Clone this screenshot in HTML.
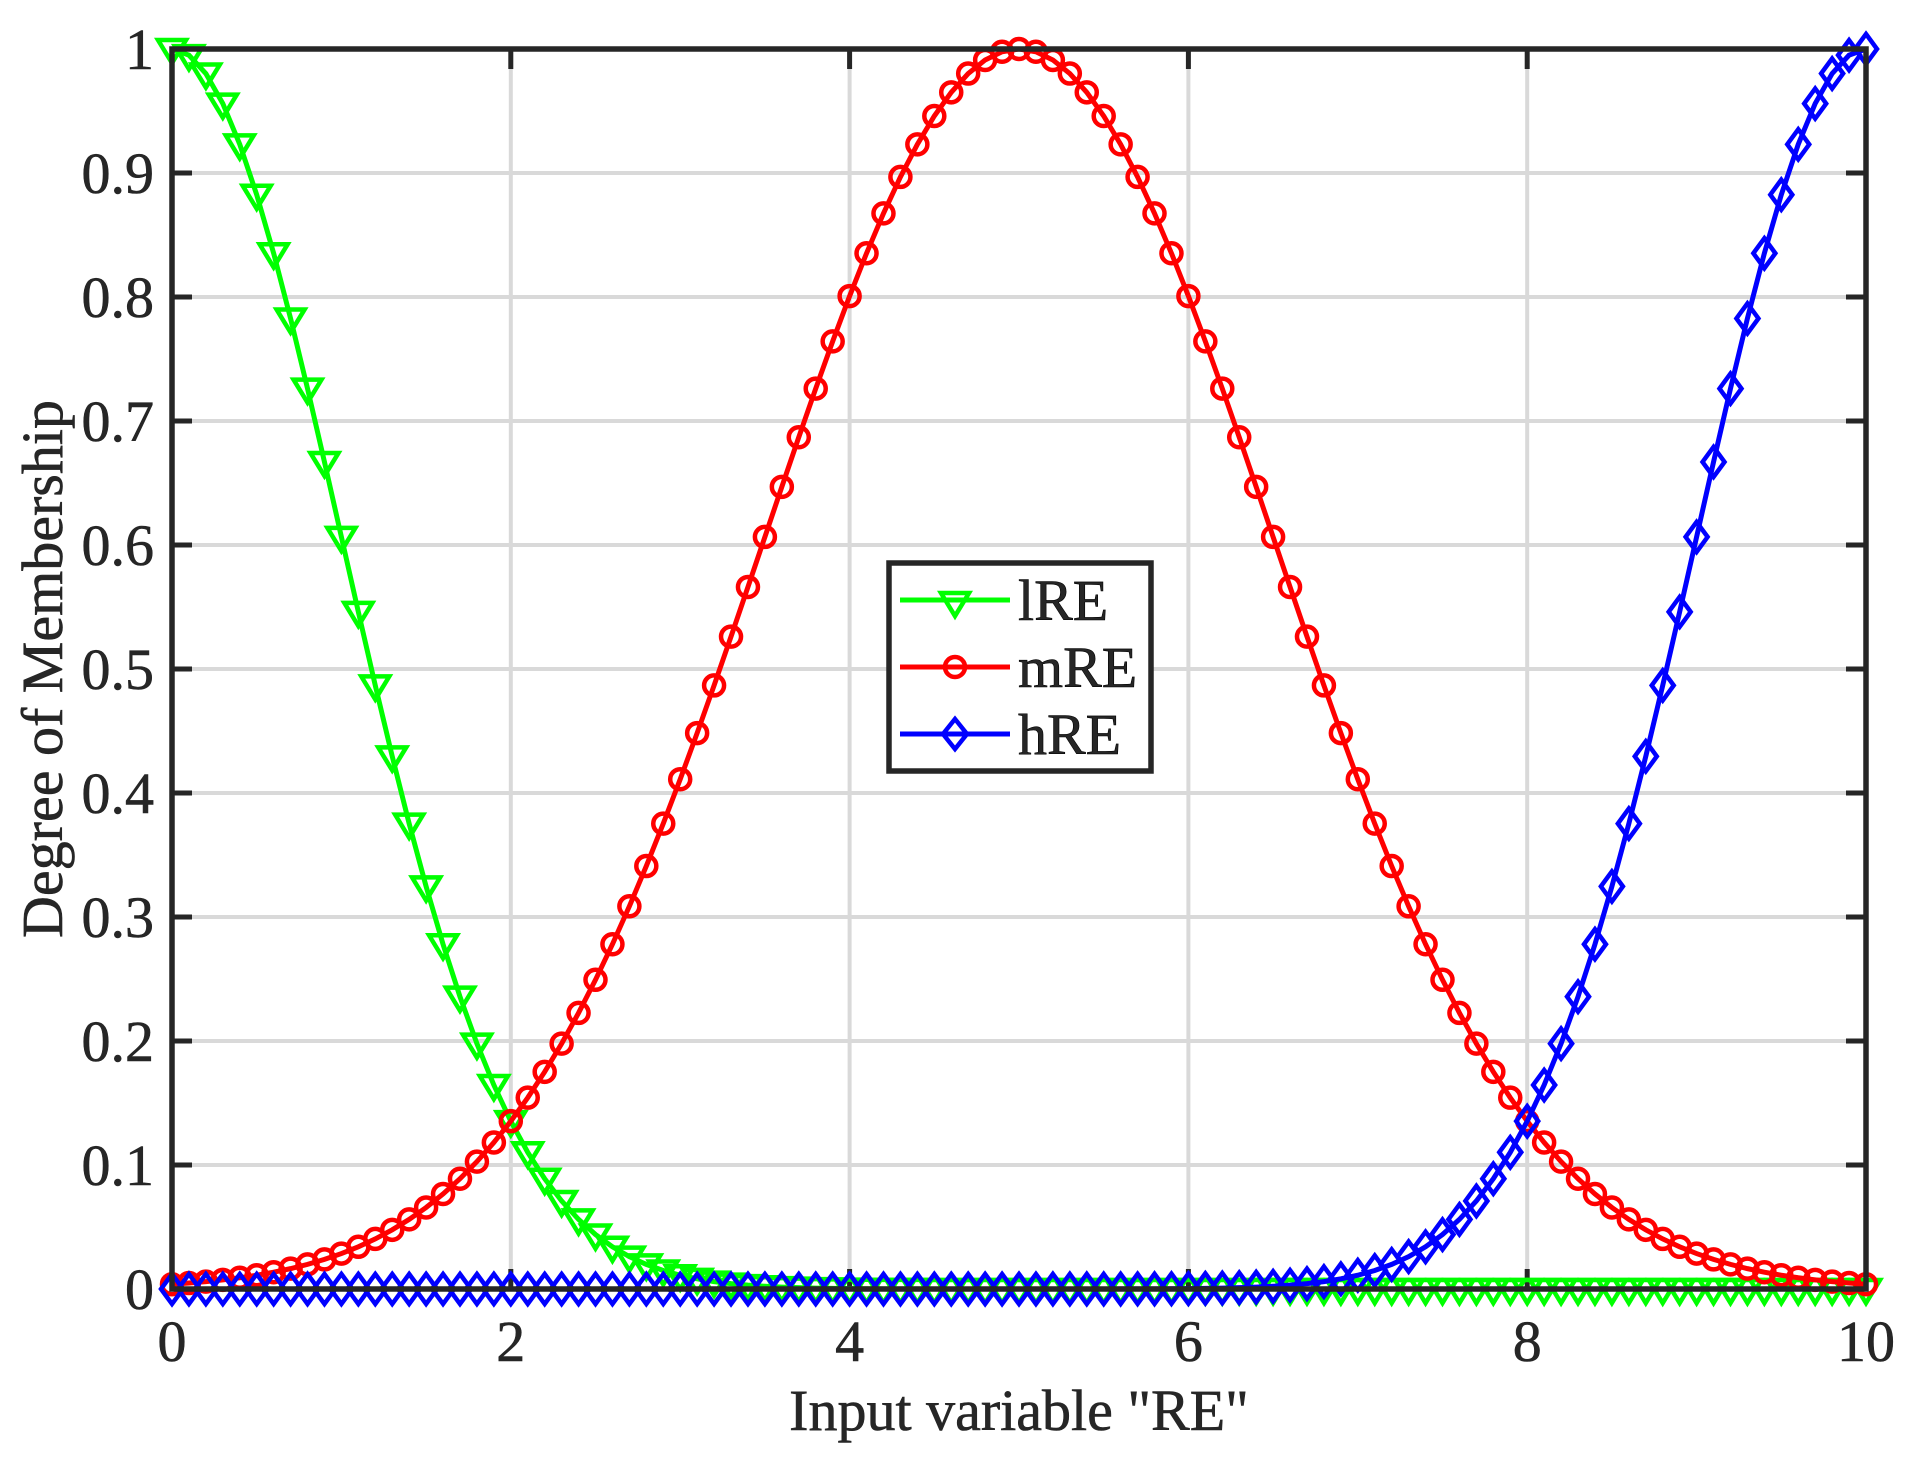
<!DOCTYPE html>
<html><head><meta charset="utf-8"><style>
html,body{margin:0;padding:0;background:#fff;}
svg{display:block;}
text{font-family:"Liberation Serif",serif;fill:#262626;}
</style></head><body>
<svg id="s" width="1906" height="1466" xmlns="http://www.w3.org/2000/svg">
<rect width="1906" height="1466" fill="#fff"/>
<g id="grid" stroke="#d9d9d9" stroke-width="4"></g>
<g id="ticks" stroke="#262626" stroke-width="5"></g>
<g id="labels" font-size="58" stroke="#262626" stroke-width="0.6"></g>
<g id="series"></g>
<rect x="172" y="49" width="1694" height="1240" fill="none" stroke="#262626" stroke-width="5.5"/>
<text x="62" y="669" font-size="58" stroke="#262626" stroke-width="0.6" text-anchor="middle" transform="rotate(-90 62 669)">Degree of Membership</text>
<text x="1019" y="1430" font-size="58" stroke="#262626" stroke-width="0.6" text-anchor="middle">Input variable "RE"</text>
<g>
<rect x="889" y="563" width="262" height="208" fill="#fff" stroke="#262626" stroke-width="5.5"/>
<line x1="900" y1="600" x2="1010" y2="600" stroke="#00ff00" stroke-width="5"/>
<polygon points="941,593 969,593 955,616" fill="none" stroke="#00ff00" stroke-width="4.5"/>
<line x1="900" y1="667" x2="1010" y2="667" stroke="#ff0000" stroke-width="5"/>
<circle cx="955" cy="667" r="10" fill="none" stroke="#ff0000" stroke-width="4.5"/>
<line x1="900" y1="734" x2="1010" y2="734" stroke="#0000ff" stroke-width="5"/>
<polygon points="955,719 967,734 955,749 943,734" fill="none" stroke="#0000ff" stroke-width="4.5"/>
<text x="1018" y="620" font-size="58" fill="#000" stroke="#000" stroke-width="0.6">lRE</text>
<text x="1018" y="687" font-size="58" fill="#000" stroke="#000" stroke-width="0.6">mRE</text>
<text x="1018" y="754" font-size="58" fill="#000" stroke="#000" stroke-width="0.6">hRE</text>
</g>
</svg>
<script>
const NS="http://www.w3.org/2000/svg";
const X0=172,X1=1866,Y0=1289,Y1=49;
const sx=v=>X0+(X1-X0)*v/10, sy=v=>Y0-(Y0-Y1)*v;
function el(p,t,a){const e=document.createElementNS(NS,t);for(const k in a)e.setAttribute(k,a[k]);p.appendChild(e);return e;}
const g=document.getElementById('grid'),tk=document.getElementById('ticks'),lb=document.getElementById('labels');
for(let i=1;i<5;i++){const x=sx(2*i);el(g,'line',{x1:x,y1:Y1,x2:x,y2:Y0});}
for(let i=1;i<10;i++){const y=sy(i/10);el(g,'line',{x1:X0,y1:y,x2:X1,y2:y});}
for(let i=0;i<=5;i++){const x=sx(2*i);el(tk,'line',{x1:x,y1:Y0,x2:x,y2:Y0-20});el(tk,'line',{x1:x,y1:Y1,x2:x,y2:Y1+20});
 const t=el(lb,'text',{x:x,y:1361,'text-anchor':'middle'});t.textContent=String(2*i);}
for(let i=0;i<=10;i++){const y=sy(i/10);el(tk,'line',{x1:X0,y1:y,x2:X0+20,y2:y});el(tk,'line',{x1:X1,y1:y,x2:X1-20,y2:y});
 const t=el(lb,'text',{x:154,y:y+20,'text-anchor':'end'});t.textContent=i==0?'0':i==10?'1':(i/10).toFixed(1);}
const S=document.getElementById('series');
const fs=[[x=>Math.exp(-x*x/2),'#00ff00','tri'],[x=>Math.exp(-(x-5)*(x-5)/4.5),'#ff0000','circ'],[x=>Math.exp(-(x-10)*(x-10)/2),'#0000ff','dia']];
for(const [f,c,m] of fs){
 let pts=[];for(let i=0;i<=100;i++){const x=i/10;pts.push([sx(x),sy(f(x))]);}
 el(S,'polyline',{points:pts.map(p=>p.join(',')).join(' '),fill:'none',stroke:c,'stroke-width':5});
 for(const [x,y] of pts){
  if(m=='tri')el(S,'polygon',{points:`${x-14},${y-9} ${x+14},${y-9} ${x},${y+14}`,fill:'none',stroke:c,'stroke-width':4.5});
  else if(m=='circ')el(S,'circle',{cx:x,cy:y,r:10,fill:'none',stroke:c,'stroke-width':4.5});
  else el(S,'polygon',{points:`${x},${y-15} ${x+11},${y} ${x},${y+15} ${x-11},${y}`,fill:'none',stroke:c,'stroke-width':4.5});
 }
}
</script>
</body></html>
